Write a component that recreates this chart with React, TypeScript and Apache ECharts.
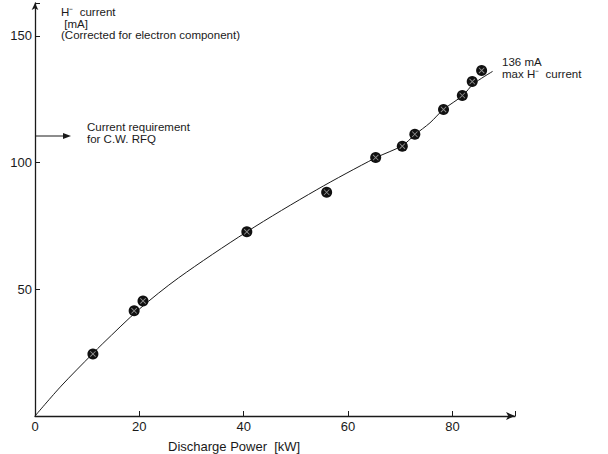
import React, { useEffect, useRef } from "react";
import * as echarts from "echarts";

const powerKW = [11.1, 19.0, 20.7, 40.6, 55.9, 65.3, 70.4, 72.8, 78.3, 81.9, 83.8, 85.6];
const currentMA = [24.5, 41.5, 45.4, 72.7, 88.3, 102.0, 106.5, 111.2, 121.0, 126.5, 132.0, 136.4];

const fitPower = [0, 5, 11, 13, 20, 27.5, 40.6, 54, 65.3, 70.4, 72.8, 75.7, 78.3, 82, 84, 87.7];
const fitCurrent = [0, 11.8, 24.5, 28.6, 42.2, 54.5, 72.7, 89.3, 101.9, 106.7, 111, 115.7, 121, 126.5, 131, 136];

const yTickLabels = [50, 100, 150];
const xTickLabels = [0, 20, 40, 60, 80];

const FONT = "Liberation Sans, Arial, sans-serif";
const INK = "#1a1a1a";

export default function App() {
  const ref = useRef<HTMLDivElement>(null);
  useEffect(() => {
    document.body.style.margin = "0";
    if (!ref.current) return;
    const chart = echarts.init(ref.current, null, { renderer: "svg" });
    const crossPath = "path://M0,1 L1,0 L10,9 L9,10 Z M9,0 L10,1 L1,10 L0,9 Z";
    chart.setOption({
      animation: false,
      backgroundColor: "#ffffff",
      grid: { left: 35, right: 93, top: 3, bottom: 38, containLabel: false },
      xAxis: {
        type: "value",
        min: 0,
        max: 92,
        interval: 20,
        axisLine: {
          show: true,
          lineStyle: { color: INK, width: 1.3 },
          symbol: ["none", "arrow"],
          symbolSize: [6, 9],
        },
        axisTick: { show: true, inside: true, length: 5, lineStyle: { color: INK } },
        splitLine: { show: false },
        axisLabel: {
          color: INK,
          fontFamily: FONT,
          fontSize: 13,
          margin: 4,
          formatter: (v: number) => (xTickLabels.includes(v) ? String(v) : ""),
        },
      },
      yAxis: {
        type: "value",
        min: 0,
        max: 163,
        interval: 50,
        axisLine: {
          show: true,
          lineStyle: { color: INK, width: 1.3 },
          symbol: ["none", "arrow"],
          symbolSize: [5, 7],
        },
        axisTick: { show: true, inside: true, length: 5, lineStyle: { color: INK } },
        splitLine: { show: false },
        axisLabel: {
          color: INK,
          fontFamily: FONT,
          fontSize: 13,
          margin: 3,
          formatter: (v: number) => (yTickLabels.includes(v) ? String(v) : ""),
        },
      },
      series: [
        {
          type: "line",
          data: fitPower.map((x, i) => [x, fitCurrent[i]]),
          smooth: 0.3,
          showSymbol: false,
          lineStyle: { color: INK, width: 1 },
          z: 2,
        },
        {
          type: "scatter",
          data: powerKW.map((x, i) => [x, currentMA[i]]),
          symbol: "circle",
          symbolSize: 11,
          itemStyle: { color: "#111111", opacity: 1 },
          z: 3,
        },
        {
          type: "scatter",
          data: powerKW.map((x, i) => [x, currentMA[i]]),
          symbol: crossPath,
          symbolSize: 6,
          itemStyle: { color: "#ffffff", opacity: 0.55 },
          z: 4,
          silent: true,
        },
      ],
      graphic: [
        {
          type: "text",
          left: 61,
          top: 6,
          style: {
            text: "H⁻  current\n [mA]\n(Corrected for electron component)",
            font: `11.5px ${FONT}`,
            lineHeight: 11.5,
            fill: INK,
          },
        },
        { type: "line", shape: { x1: 36, y1: 136, x2: 66, y2: 136 }, style: { stroke: INK, lineWidth: 1 } },
        { type: "polygon", shape: { points: [[71, 136], [63, 133], [63, 139]] }, style: { fill: INK } },
        {
          type: "text",
          left: 87,
          top: 121,
          style: { text: "Current requirement\nfor C.W. RFQ", font: `11.5px ${FONT}`, lineHeight: 11.5, fill: INK },
        },
        {
          type: "text",
          left: 502,
          top: 56,
          style: { text: "136 mA\nmax H⁻  current", font: `11.5px ${FONT}`, lineHeight: 11.5, fill: INK },
        },
        {
          type: "text",
          left: 168,
          top: 440,
          style: { text: "Discharge Power  [kW]", font: `13px ${FONT}`, fill: INK },
        },
      ],
    });
    return () => chart.dispose();
  }, []);
  return <div ref={ref} style={{ width: 608, height: 454, position: "absolute", left: 0, top: 0 }} />;
}
